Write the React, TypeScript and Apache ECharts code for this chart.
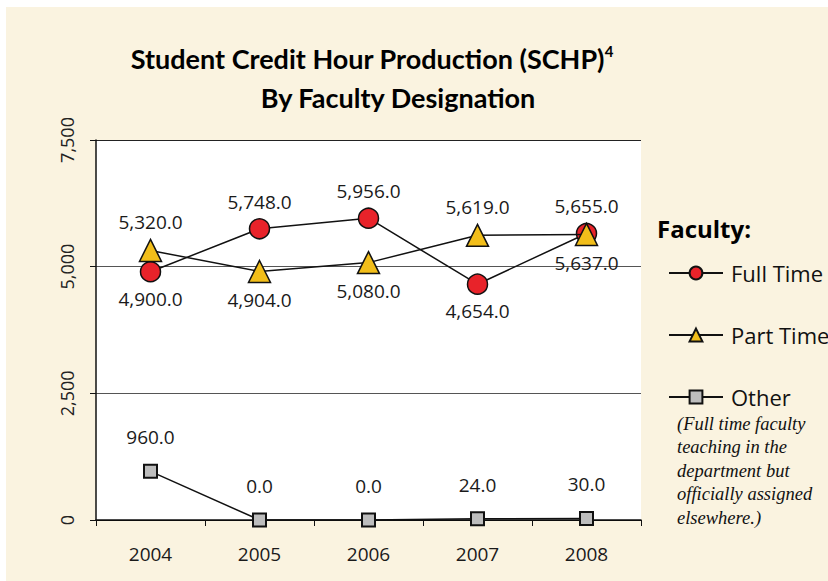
import React, { useEffect, useRef } from "react";
import * as echarts from "echarts";

const years = ["2004", "2005", "2006", "2007", "2008"];
const fullTime = [4900, 5748, 5956, 4654, 5655];
const partTime = [5320, 4904, 5080, 5619, 5637];
const other = [960, 0, 0, 24, 30];
const yTicks = [0, 2500, 5000, 7500];

const fullTimePos = ["bottom", "top", "top", "bottom", "top"];
const partTimePos = ["top", "bottom", "bottom", "top", "bottom"];

const fmt = (v: number) =>
  v.toLocaleString("en-US", { minimumFractionDigits: 1, maximumFractionDigits: 1 });

const LABEL_FONT = "'Open Sans', 'Noto Sans', sans-serif";

export default function App() {
  const ref = useRef<HTMLDivElement>(null);
  useEffect(() => {
    if (!ref.current) return;
    const chart = echarts.init(ref.current, null, { renderer: "svg" });
    const labelBase = {
      show: true,
      fontSize: 19,
      fontFamily: LABEL_FONT,
      color: "#1a1a1a",
      formatter: (p: any) => fmt(p.value),
    };
    const mk = (vals: number[], pos: string[], dist: number) =>
      vals.map((v, i) => ({ value: v, label: { position: pos[i], distance: dist } }));

    chart.setOption({
      animation: false,
      backgroundColor: "#ffffff",
      graphic: [
        {
          type: "rect",
          z: -10,
          silent: true,
          shape: { x: 6, y: 7, width: 830, height: 580 },
          style: { fill: "#FAF3E0" },
        },
        {
          type: "text",
          x: 372,
          y: 58,
          style: {
            text: "{a|Student Credit Hour Production (SCHP)}{s|4}",
            align: "center",
            verticalAlign: "middle",
            rich: {
              a: { fontSize: 27, fontWeight: "bold", fontFamily: "Lato, sans-serif", fill: "#000", lineHeight: 30 },
              s: { fontSize: 15, fontWeight: "bold", fontFamily: "Lato, sans-serif", fill: "#000", verticalAlign: "top", lineHeight: 30 },
            },
          },
        },
        {
          type: "text",
          x: 398,
          y: 97,
          style: {
            text: "By Faculty Designation",
            align: "center",
            verticalAlign: "middle",
            fontSize: 27,
            fontWeight: "bold",
            fontFamily: "Lato, sans-serif",
            fill: "#000",
          },
        },
        {
          type: "text",
          x: 657,
          y: 228,
          style: {
            text: "Faculty:",
            align: "left",
            verticalAlign: "middle",
            fontSize: 24,
            fontWeight: "bold",
            fontFamily: LABEL_FONT,
            fill: "#000",
          },
        },
        {
          type: "text",
          x: 677,
          y: 412,
          style: {
            text: "(Full time faculty\nteaching in the\ndepartment but\nofficially assigned\nelsewhere.)",
            align: "left",
            verticalAlign: "top",
            fontSize: 18.5,
            fontStyle: "italic",
            lineHeight: 23.5,
            fontFamily: "'Liberation Serif', 'DejaVu Serif', serif",
            fill: "#111",
          },
        },
      ],
      grid: {
        left: 96,
        right: 187,
        top: 140,
        bottom: 61,
        show: true,
        backgroundColor: "#ffffff",
        borderWidth: 0,
      },
      legend: {
        orient: "vertical",
        left: 668,
        top: 262,
        padding: 0,
        itemWidth: 54,
        itemHeight: 16,
        itemGap: 40,
        textStyle: { fontSize: 22, lineHeight: 22, fontFamily: LABEL_FONT, color: "#111", padding: [0, 0, 0, 3] },
        data: ["Full Time", "Part Time", "Other"],
      },
      xAxis: {
        type: "category",
        data: years,
        boundaryGap: true,
        axisLine: { lineStyle: { color: "#111", width: 1.5 } },
        axisTick: { show: true, length: 6, lineStyle: { color: "#111" } },
        axisLabel: { fontSize: 19, fontFamily: LABEL_FONT, color: "#1a1a1a", margin: 24 },
      },
      yAxis: {
        type: "value",
        min: yTicks[0],
        max: yTicks[yTicks.length - 1],
        interval: yTicks[1] - yTicks[0],
        axisLine: { show: true, lineStyle: { color: "#111", width: 1.5 } },
        axisTick: { show: true, length: 6, lineStyle: { color: "#111" } },
        axisLabel: {
          rotate: 90,
          fontSize: 18,
          fontFamily: LABEL_FONT,
          color: "#222",
          margin: 20,
          formatter: (v: number) => v.toLocaleString("en-US"),
        },
        splitLine: { show: true, lineStyle: { color: ["#000", "#555", "#555", "#222"], width: 1 } },
      },
      series: [
        {
          name: "Full Time",
          type: "line",
          data: mk(fullTime, fullTimePos, 7),
          symbol: "circle",
          symbolSize: 20,
          itemStyle: { color: "#E8232A", borderColor: "#111", borderWidth: 1.5 },
          lineStyle: { color: "#111", width: 1.5 },
          label: labelBase,
          z: 3,
        },
        {
          name: "Part Time",
          type: "line",
          data: mk(partTime, partTimePos, 7),
          symbol: "triangle",
          symbolSize: 22,
          itemStyle: { color: "#F2BE1A", borderColor: "#111", borderWidth: 1.5 },
          lineStyle: { color: "#111", width: 1.5 },
          label: labelBase,
          z: 4,
        },
        {
          name: "Other",
          type: "line",
          data: mk(other, ["top", "top", "top", "top", "top"], 17),
          symbol: "rect",
          symbolSize: 13,
          itemStyle: { color: "#BDBDBD", borderColor: "#111", borderWidth: 2 },
          lineStyle: { color: "#111", width: 1.5 },
          label: labelBase,
          z: 3,
        },
      ],
    });
    return () => chart.dispose();
  }, []);
  return (
    <div
      ref={ref}
      style={{ position: "absolute", left: 0, top: 0, width: 828, height: 581 }}
    />
  );
}
